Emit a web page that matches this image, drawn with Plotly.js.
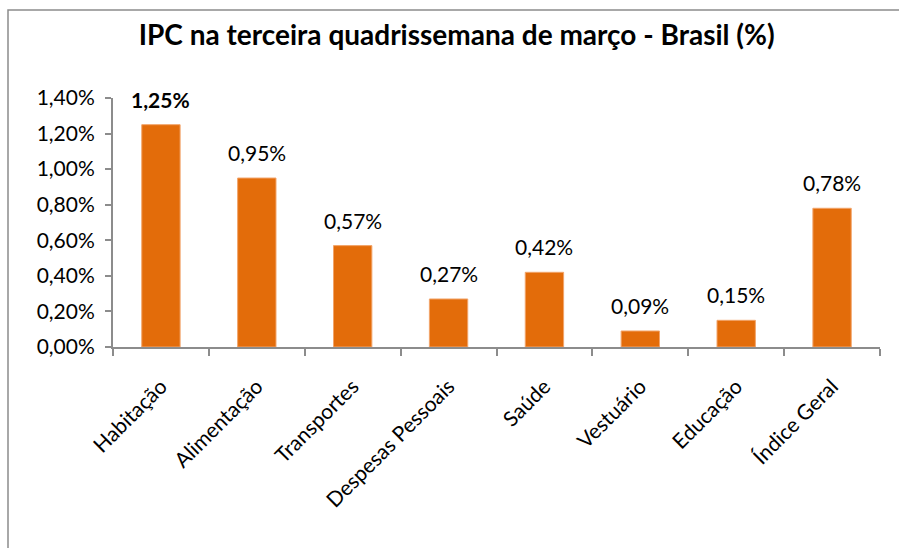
<!DOCTYPE html>
<html>
<head>
<meta charset="utf-8">
<script src="https://cdn.plot.ly/plotly-3.0.1.min.js"></script>
<style>html,body{margin:0;padding:0;background:#fff;}#chart{width:899px;height:548px;}</style>
</head>
<body>
<div id="chart"></div>
<script>
const categories = ["Habitação","Alimentação","Transportes","Despesas Pessoais","Saúde","Vestuário","Educação","Índice Geral"];
const values = [1.25, 0.95, 0.57, 0.27, 0.42, 0.09, 0.15, 0.78];
const labels = ["<b>1,25%</b>","0,95%","0,57%","0,27%","0,42%","0,09%","0,15%","0,78%"];
const yTicks = [0,0.2,0.4,0.6,0.8,1.0,1.2,1.4];
const yTickText = ["0,00%","0,20%","0,40%","0,60%","0,80%","1,00%","1,20%","1,40%"];

const FONT = "Lato, 'Open Sans', sans-serif";
const L=113, R=19, T=98, B=201;
const pw = 899-L-R, ph = 548-T-B;

const trace = {
  type: "bar",
  x: categories,
  y: values,
  marker: {color: "#E36C0A", line: {color: "#F2A46A", width: 1}},
  hoverinfo: "none"
};

const annotations = categories.map((c, i) => ({
  x: c, y: values[i], xref: "x", yref: "y",
  text: labels[i], showarrow: false,
  xanchor: "center", yanchor: "bottom", yshift: 11,
  font: {family: FONT, size: 21, color: "#000"}
}));

const layout = {
  width: 899, height: 548,
  margin: {l: L, r: R, t: T, b: B},
  paper_bgcolor: "#fff", plot_bgcolor: "#fff",
  separators: ",.",
  showlegend: false,
  bargap: 0.6,
  font: {family: FONT, color: "#000"},
  title: {text: "<b>IPC na terceira quadrissemana de março - Brasil (%)</b>", x: 0.508, xanchor: "center", y: 0.936, yanchor: "middle", font: {family: FONT, size: 28, color: "#000"}},
  xaxis: {
    type: "category",
    showline: true, linecolor: "#8c8c8c", linewidth: 2,
    ticks: "outside", ticklen: 7, tickcolor: "#8c8c8c", tickwidth: 2,
    tickson: "boundaries",
    tickangle: -45,
    ticklabelstandoff: 17,
    tickfont: {family: FONT, size: 21, color: "#000"},
    showgrid: false, zeroline: false
  },
  yaxis: {
    range: [0, 1.4],
    tickvals: yTicks,
    ticktext: yTickText,
    showline: true, linecolor: "#8c8c8c", linewidth: 2,
    ticks: "outside", ticklen: 6, tickcolor: "#8c8c8c", tickwidth: 2,
    ticklabelstandoff: 6,
    tickfont: {family: FONT, size: 21, color: "#000"},
    showgrid: false, zeroline: false
  },
  annotations: annotations,
  shapes: [{
    type: "rect", xref: "paper", yref: "paper",
    x0: (8-L)/pw, x1: (910-L)/pw,
    y0: (548-B-570)/ph, y1: (548-B-10)/ph,
    line: {color: "#8c8c8c", width: 1.5}, fillcolor: "rgba(0,0,0,0)", layer: "below"
  }]
};

Plotly.newPlot("chart", [trace], layout, {staticPlot: true, displayModeBar: false});
</script>
</body>
</html>
